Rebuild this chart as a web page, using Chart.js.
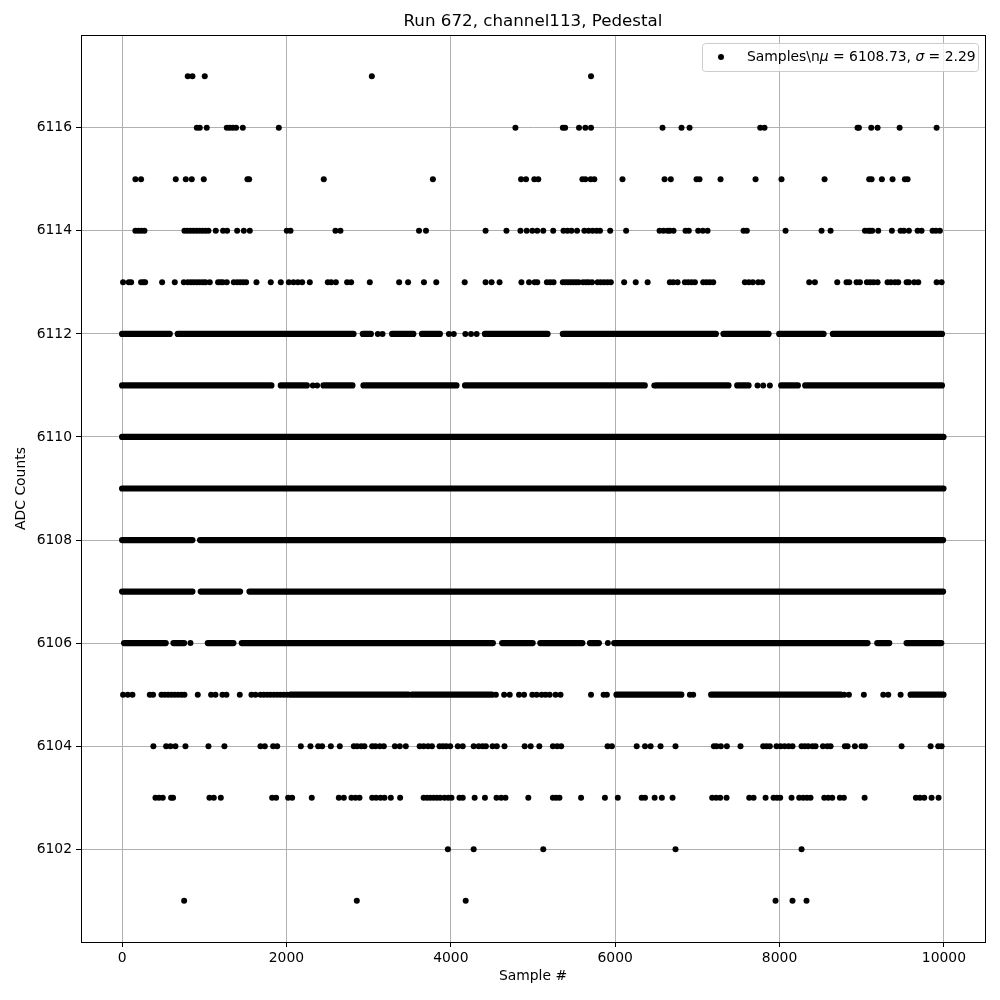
<!DOCTYPE html>
<html>
<head>
<meta charset="utf-8">
<title>Run 672 pedestal</title>
<script src="https://cdn.jsdelivr.net/npm/chart.js@4/dist/chart.umd.min.js"></script>
<style>
  body { margin: 0; background: #fff; }
  #wrap { width: 1000px; height: 1000px; position: relative; }
</style>
</head>
<body>
<div id="wrap"><canvas id="chart"></canvas></div>
<script>
// text
const chartTitle = 'Run 672, channel113, Pedestal';
const xLabel = 'Sample #';
const yLabel = 'ADC Counts';
// legend label, [text, italic]
const legendParts = [['Samples\\n', false], ['μ', true], [' = 6108.73, ', false], ['σ', true], [' = 2.29', false]];

// axes
const xTicks = [0, 2000, 4000, 6000, 8000, 10000];
const yTicks = [6102, 6104, 6106, 6108, 6110, 6112, 6114, 6116];

// sample numbers of single visible dots, one array per ADC level
const pts6117 = [799, 856, 1006, 3039, 5706];
const pts6116 = [909, 945, 1030, 1274, 1310, 1347, 1387, 1469, 1907, 4786, 5363, 5391, 5560, 5637, 5706, 6576, 6807, 6905, 7765, 7817, 8949, 8966, 9116, 9193, 9461, 9911];
const pts6115 = [162, 231, 653, 775, 848, 994, 1525, 1546, 2454, 3782, 4855, 4915, 5016, 5064, 5601, 5637, 5702, 5746, 6089, 6601, 6677, 6990, 7026, 7282, 7708, 8024, 8548, 9091, 9120, 9245, 9375, 9525, 9558];
const pts6114 = [162, 199, 235, 272, 759, 795, 832, 868, 905, 941, 978, 1014, 1051, 1140, 1229, 1278, 1400, 1481, 1554, 2004, 2049, 2596, 2657, 3613, 3698, 4423, 4677, 4847, 4923, 4992, 5052, 5125, 5246, 5371, 5419, 5468, 5536, 5625, 5677, 5726, 5774, 5815, 5939, 6133, 6540, 6588, 6637, 6665, 6710, 6856, 6896, 7010, 7067, 7124, 7562, 7602, 8073, 8511, 8621, 9039, 9079, 9103, 9128, 9201, 9367, 9473, 9513, 9574, 9680, 9728, 9862, 9903, 9951];
const pts6113 = [12, 81, 110, 231, 260, 280, 487, 641, 751, 799, 836, 872, 909, 945, 982, 1014, 1067, 1168, 1197, 1225, 1274, 1359, 1400, 1436, 1473, 1509, 1635, 1809, 1931, 2029, 2086, 2138, 2191, 2284, 2503, 2544, 2601, 2738, 2787, 3014, 3371, 3480, 3673, 3823, 4169, 4423, 4496, 4593, 4859, 4952, 5020, 5052, 5169, 5210, 5250, 5363, 5395, 5427, 5460, 5492, 5524, 5556, 5609, 5645, 5677, 5718, 5786, 5826, 5867, 5907, 5947, 6109, 6250, 6395, 6665, 6706, 6759, 6848, 6888, 6929, 6970, 7071, 7112, 7152, 7193, 7578, 7627, 7675, 7740, 7789, 8361, 8430, 8702, 8815, 8848, 8937, 8978, 9063, 9103, 9144, 9193, 9314, 9355, 9404, 9444, 9546, 9574, 9639, 9688, 9911, 9972];
const pts6112 = [3112, 3169, 3976, 4036, 4177, 4246, 4314];
const pts6111 = [2321, 2373, 6476, 7732, 7801, 7882];
const pts6106 = [832, 5911];
const pts6105 = [12, 69, 126, 337, 377, 479, 519, 560, 600, 641, 682, 722, 759, 921, 1083, 1136, 1221, 1270, 1432, 1574, 1623, 1684, 1724, 1765, 1805, 1846, 1887, 1927, 1968, 2008, 4548, 4649, 4717, 4830, 4891, 4992, 5044, 5105, 5153, 5202, 5274, 5335, 5706, 5859, 5899, 6909, 6949, 8787, 8844, 9026, 9262, 9323, 9473];
const pts6104 = [381, 536, 588, 649, 771, 1051, 1245, 1684, 1737, 1838, 1887, 2175, 2292, 2386, 2434, 2540, 2649, 2820, 2860, 2909, 2949, 3043, 3083, 3136, 3185, 3319, 3379, 3452, 3621, 3669, 3722, 3770, 3863, 3903, 3944, 3992, 4085, 4145, 4278, 4339, 4387, 4427, 4508, 4560, 4653, 4899, 4972, 5077, 5242, 5294, 5343, 5907, 5960, 6262, 6363, 6431, 6552, 6734, 7201, 7233, 7286, 7359, 7525, 7801, 7842, 7882, 7963, 8012, 8061, 8110, 8158, 8268, 8308, 8349, 8402, 8438, 8528, 8581, 8621, 8795, 8828, 8917, 8998, 9039, 9485, 9838, 9931, 9972];
const pts6103 = [406, 450, 495, 596, 620, 1063, 1116, 1201, 1826, 1874, 2020, 2069, 2308, 2637, 2698, 2791, 2840, 2889, 3043, 3091, 3144, 3193, 3270, 3383, 3669, 3710, 3750, 3790, 3831, 3871, 3923, 3968, 4008, 4105, 4145, 4290, 4415, 4556, 4613, 4665, 4943, 5242, 5282, 5322, 5585, 5875, 6032, 6322, 6363, 6480, 6568, 6698, 7180, 7229, 7278, 7355, 7631, 7684, 7830, 7927, 7968, 8008, 8146, 8239, 8288, 8333, 8377, 8544, 8592, 8641, 8734, 8783, 9035, 9659, 9708, 9761, 9850, 9935];
const pts6102 = [3964, 4278, 5125, 6734, 8268];
const pts6101 = [755, 2856, 4181, 7951, 8158, 8328];

// stretches where the dots touch each other and read as one band: [first, last] sample
const runs6112 = [[0, 580], [677, 2816], [2929, 3027], [3286, 3544], [3649, 3867], [4415, 5177], [5363, 7225], [7318, 7866], [7996, 8536], [8649, 9976]];
const runs6111 = [[0, 1817], [1931, 2248], [2450, 2803], [2937, 4069], [4173, 6360], [6504, 7379], [7485, 7623], [8020, 8223], [8312, 9976]];
const runs6110 = [[0, 9995]];
const runs6109 = [[0, 9995]];
const runs6108 = [[0, 856], [949, 9990]];
const runs6107 = [[0, 856], [957, 1436], [1550, 9990]];
const runs6106 = [[24, 531], [625, 755], [1043, 1355], [1456, 4512], [4625, 4996], [5089, 5601], [5693, 5802], [5988, 9071], [9189, 9335], [9546, 9968]];
const runs6105 = [[2050, 3483], [3528, 4500], [6016, 6805], [7168, 8746], [9595, 9995]];

const pointRows = [
  [6117, pts6117], [6116, pts6116], [6115, pts6115], [6114, pts6114], [6113, pts6113],
  [6112, pts6112], [6111, pts6111], [6106, pts6106], [6105, pts6105], [6104, pts6104],
  [6103, pts6103], [6102, pts6102], [6101, pts6101]
];
const runRows = [
  [6112, runs6112], [6111, runs6111], [6110, runs6110], [6109, runs6109],
  [6108, runs6108], [6107, runs6107], [6106, runs6106], [6105, runs6105]
];

const dotPoints = [];
pointRows.forEach(([level, xs]) => {
  xs.forEach(x => dotPoints.push({ x: x, y: level }));
});

// each run is a segment, a null y breaks the line between runs
const bandPoints = [];
runRows.forEach(([level, runs]) => {
  runs.forEach(r => {
    bandPoints.push({ x: r[0], y: level }, { x: r[1], y: level }, { x: r[1], y: null });
  });
});

const FONT = 'DejaVu Sans';
Chart.defaults.font.family = FONT;
Chart.defaults.font.size = 13.9;
Chart.defaults.color = '#000';

// title, frame and the matplotlib-like legend box
const decorPlugin = {
  id: 'decor',
  afterDraw(chart) {
    const ctx = chart.ctx;
    const a = chart.chartArea;
    ctx.save();
    ctx.strokeStyle = '#000';
    ctx.lineWidth = 1;
    ctx.strokeRect(Math.round(a.left) + 0.5, Math.round(a.top) + 0.5, Math.round(a.right - a.left), Math.round(a.bottom - a.top));

    ctx.fillStyle = '#000';
    ctx.font = '16.7px "' + FONT + '"';
    ctx.textAlign = 'center';
    ctx.textBaseline = 'middle';
    ctx.fillText(chartTitle, (a.left + a.right) / 2, 22);

    // legend
    const bx = 702, by = 43, bw = 276, bh = 28;
    ctx.beginPath();
    ctx.roundRect(bx + 0.5, by + 0.5, bw, bh, 3);
    ctx.fillStyle = 'rgba(255,255,255,0.8)';
    ctx.fill();
    ctx.strokeStyle = '#cccccc';
    ctx.stroke();

    ctx.fillStyle = '#000';
    ctx.beginPath();
    ctx.arc(721, 57, 3, 0, Math.PI * 2);
    ctx.fill();

    ctx.textAlign = 'left';
    let tx = 747;
    legendParts.forEach(([txt, italic]) => {
      ctx.font = (italic ? 'italic ' : '') + '13.9px "' + FONT + '"';
      ctx.fillText(txt, tx, 57);
      tx += ctx.measureText(txt).width;
    });
    ctx.restore();
  }
};

new Chart(document.getElementById('chart'), {
  type: 'scatter',
  data: {
    datasets: [
      {
        label: 'Samples',
        data: dotPoints,
        pointRadius: 3,
        pointBackgroundColor: '#000',
        pointBorderWidth: 0,
        showLine: false
      },
      {
        label: 'band',
        data: bandPoints,
        showLine: true,
        spanGaps: false,
        pointRadius: 0,
        borderColor: '#000',
        borderWidth: 6.2,
        borderCapStyle: 'round',
        borderJoinStyle: 'round'
      }
    ]
  },
  options: {
    responsive: true,
    maintainAspectRatio: false,
    animation: false,
    events: [],
    layout: { padding: { top: 35, right: 15, left: 0, bottom: 0 } },
    plugins: {
      legend: { display: false },
      title: { display: false },
      tooltip: { enabled: false }
    },
    scales: {
      x: {
        type: 'linear',
        min: -500,
        max: 10500,
        afterBuildTicks: s => { s.ticks = xTicks.map(v => ({ value: v })); },
        afterFit: s => { s.height = 58; },
        ticks: { callback: v => String(v), padding: 3, maxRotation: 0 },
        grid: { color: '#b0b0b0', lineWidth: 1, tickColor: '#000', tickLength: 5 },
        border: { display: true, color: '#000', width: 1 },
        title: { display: true, text: xLabel, padding: { top: 0, bottom: 15 } }
      },
      y: {
        type: 'linear',
        min: 6100.2,
        max: 6117.8,
        afterBuildTicks: s => { s.ticks = yTicks.map(v => ({ value: v })); },
        afterFit: s => { s.width = 81; },
        ticks: { callback: v => String(v), padding: 4 },
        grid: { color: '#b0b0b0', lineWidth: 1, tickColor: '#000', tickLength: 5 },
        border: { display: true, color: '#000', width: 1 },
        title: { display: true, text: yLabel, padding: { top: 13, bottom: 0 } }
      }
    }
  },
  plugins: [decorPlugin]
});
</script>
</body>
</html>
